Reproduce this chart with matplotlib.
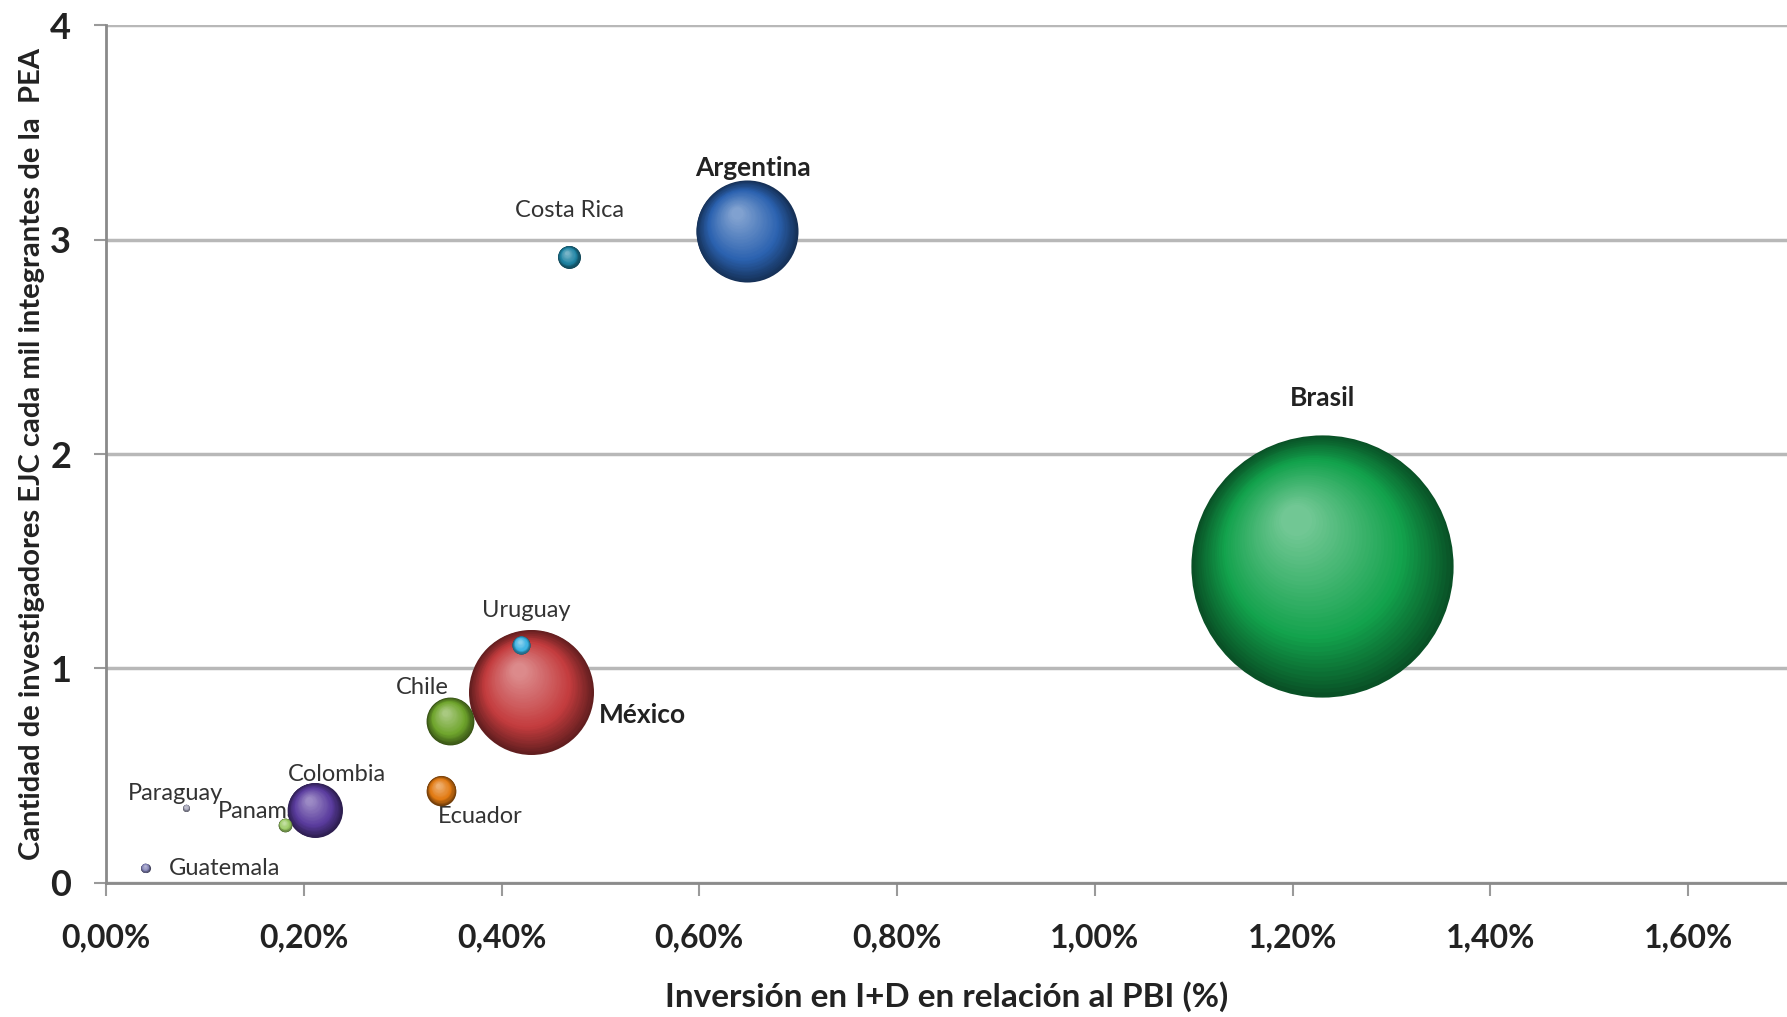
import numpy as np
import matplotlib.pyplot as plt
from matplotlib.colors import to_rgb
from matplotlib.transforms import ScaledTranslation

plt.rcParams['font.family'] = ['Lato', 'DejaVu Sans']

# datos
paises = ['Brasil', 'México', 'Argentina', 'Colombia', 'Chile', 'Ecuador',
          'Costa Rica', 'Uruguay', 'Panamá', 'Guatemala', 'Paraguay']
inversion = [1.23, 0.43, 0.648, 0.211, 0.348, 0.339, 0.468, 0.42, 0.181, 0.040, 0.081]
investigadores = [1.48, 0.89, 3.04, 0.34, 0.755, 0.43, 2.92, 1.11, 0.27, 0.07, 0.35]
tamano = [132, 30, 20, 5.8, 4.4, 1.7, 1.0, 0.64, 0.36, 0.16, 0.09]
colores = ['#12a24c', '#c43c3e', '#2b62b0', '#5a3c9e', '#6fa52c', '#e27a12',
           '#1f84a4', '#3ab2e2', '#9ccc66', '#8585b8', '#a0a0b4']
negrita = ['Brasil', 'México', 'Argentina']
xticks = [0.0, 0.2, 0.4, 0.6, 0.8, 1.0, 1.2, 1.4, 1.6]
yticks = [0, 1, 2, 3, 4]

# desplazamiento de etiquetas (pixeles)
etiqueta_offset = {
    'Brasil': (0, 168), 'México': (111, -23), 'Argentina': (6, 63),
    'Colombia': (22, 35), 'Chile': (-28, 33), 'Ecuador': (39, -26),
    'Costa Rica': (1, 46), 'Uruguay': (5, 34), 'Panamá': (-26, 13),
    'Guatemala': (79, -1), 'Paraguay': (-11, 14),
}

fig = plt.figure(figsize=(17.87, 10.17), dpi=100)
ax = fig.add_axes([0.0593, 0.132, 0.9407, 0.843])


def esfera(x, y, s, color, z):
    base = np.array(to_rgb(color))
    r_px = np.sqrt(s) / 2 * fig.dpi / 72
    n = 40
    for i in range(n):
        t = i / (n - 1)
        rf = 1 - 0.88 * t
        if t < 0.35:
            c = base * (0.5 + 0.5 * t / 0.35)
        else:
            c = base + (1 - base) * 0.4 * (t - 0.35) / 0.65
        dx = -0.2 * r_px * t
        dy = 0.35 * r_px * t
        tr = ax.transData + ScaledTranslation(dx / fig.dpi, dy / fig.dpi, fig.dpi_scale_trans)
        ax.scatter([x], [y], s=s * rf ** 2, color=np.clip(c, 0, 1),
                   transform=tr, zorder=z, linewidths=0)


k = 270
for i, p in enumerate(paises):
    esfera(inversion[i], investigadores[i], tamano[i] * k, colores[i], 5 + i)
    dx, dy = etiqueta_offset[p]
    ax.annotate(p, (inversion[i], investigadores[i]), xytext=(dx, dy),
                textcoords='offset pixels', ha='center', va='center',
                fontsize=19 if p in negrita else 17,
                fontweight='bold' if p in negrita else 'normal',
                color='#222222' if p in negrita else '#333333', zorder=3)

ax.set_xlim(0, 1.70)
ax.set_ylim(0, 4)
ax.set_xticks(xticks)
ax.set_xticklabels([f'{v:.2f}%'.replace('.', ',') for v in xticks])
ax.set_yticks(yticks)

ax.yaxis.grid(True, color='#b8b8b8', linewidth=2.5, zorder=0)
ax.set_axisbelow(True)
for sp in ['top', 'right']:
    ax.spines[sp].set_visible(False)
for sp in ['left', 'bottom']:
    ax.spines[sp].set_color('#8a8a8a')
    ax.spines[sp].set_linewidth(2)
ax.tick_params(axis='x', direction='out', length=9, width=1.5, color='#9a9a9a',
               labelsize=23, pad=20)
ax.tick_params(axis='y', direction='out', length=9, width=1.5, color='#9a9a9a',
               labelsize=26, pad=16)
for lab in ax.get_xticklabels() + ax.get_yticklabels():
    lab.set_fontweight('bold')
    lab.set_color('#222222')

ax.set_xlabel('Inversión en I+D en relación al PBI (%)', fontsize=24,
              fontweight='bold', color='#222222', labelpad=21)
ax.set_ylabel('Cantidad de investigadores EJC cada mil integrantes de la  PEA',
              fontsize=21, fontweight='bold', color='#222222', labelpad=4)

fig.savefig('out.png', dpi=100)
